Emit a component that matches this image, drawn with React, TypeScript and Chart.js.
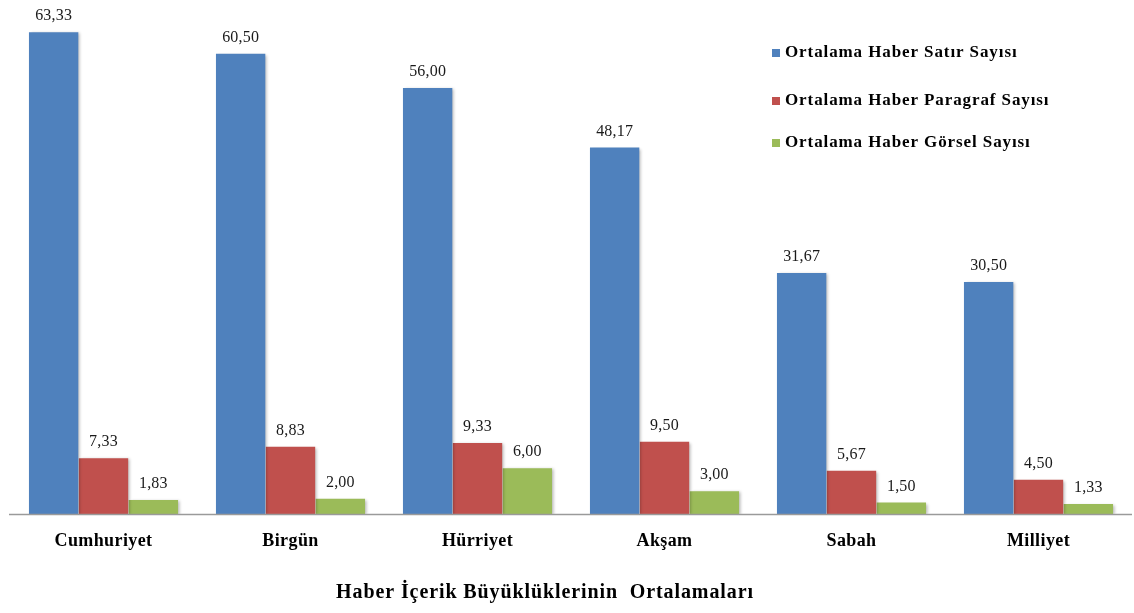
import React, { useEffect, useRef } from "react";
import { Chart, registerables } from "chart.js";

Chart.register(...registerables);

const categories = ["Cumhuriyet", "Birgün", "Hürriyet", "Akşam", "Sabah", "Milliyet"];
const satirValues = [63.33, 60.5, 56.0, 48.17, 31.67, 30.5];
const paragrafValues = [7.33, 8.83, 9.33, 9.5, 5.67, 4.5];
const gorselValues = [1.83, 2.0, 6.0, 3.0, 1.5, 1.33];
const seriesNames = [
  "Ortalama Haber Satır Sayısı",
  "Ortalama Haber Paragraf Sayısı",
  "Ortalama Haber Görsel Sayısı",
];
const seriesColors = ["#4F81BD", "#C0504D", "#9BBB59"];
const chartTitle = "Haber İçerik Büyüklüklerinin  Ortalamaları";

const SERIF = '"Liberation Serif", "Times New Roman", serif';

const fmt = (v: number) => v.toFixed(2).replace(".", ",");

const customPlugin = {
  id: "customDraw",
  beforeDatasetsDraw(chart: any) {
    const ctx = chart.ctx;
    ctx.save();
    ctx.shadowColor = "rgba(0,0,0,0.28)";
    ctx.shadowBlur = 3;
    ctx.shadowOffsetX = 2;
    ctx.shadowOffsetY = 1;
  },
  afterDatasetsDraw(chart: any) {
    const ctx = chart.ctx;
    ctx.restore();
    const area = chart.chartArea;
    // axis line
    ctx.save();
    ctx.strokeStyle = "#9a9a9a";
    ctx.lineWidth = 1.5;
    ctx.beginPath();
    ctx.moveTo(area.left - 1, area.bottom + 0.5);
    ctx.lineTo(area.right, area.bottom + 0.5);
    ctx.stroke();
    // data labels
    ctx.fillStyle = "#1a1a1a";
    ctx.font = `16px ${SERIF}`;
    ctx.letterSpacing = "0.2px";
    ctx.textAlign = "center";
    ctx.textBaseline = "alphabetic";
    chart.data.datasets.forEach((ds: any, i: number) => {
      const meta = chart.getDatasetMeta(i);
      meta.data.forEach((bar: any, j: number) => {
        ctx.fillText(fmt(ds.data[j]), bar.x, bar.y - 12);
      });
    });
    // category labels
    const xs = chart.scales.x;
    ctx.fillStyle = "#000";
    ctx.font = `bold 18px ${SERIF}`;
    ctx.letterSpacing = "0.4px";
    ctx.textBaseline = "middle";
    categories.forEach((c, i) => {
      ctx.fillText(c, xs.getPixelForValue(i), 541);
    });
    // legend
    ctx.textAlign = "left";
    ctx.font = `bold 17px ${SERIF}`;
    ctx.letterSpacing = "0.9px";
    const legendY = [53, 101, 143];
    seriesNames.forEach((n, i) => {
      ctx.fillStyle = seriesColors[i];
      ctx.fillRect(772, legendY[i] - 4, 8, 8);
      ctx.fillStyle = "#000";
      ctx.fillText(n, 785, legendY[i]);
    });
    // title
    ctx.textAlign = "center";
    ctx.font = `bold 20px ${SERIF}`;
    ctx.letterSpacing = "0.9px";
    ctx.fillText(chartTitle, 545, 593);
    ctx.restore();
  },
};

export default function App() {
  const ref = useRef<HTMLCanvasElement>(null);
  useEffect(() => {
    document.body.style.margin = "0";
    const chart = new Chart(ref.current!, {
      type: "bar",
      data: {
        labels: categories,
        datasets: [satirValues, paragrafValues, gorselValues].map((d, i) => ({
          label: seriesNames[i],
          data: d,
          backgroundColor: seriesColors[i],
          borderWidth: 0,
          categoryPercentage: 0.8,
          barPercentage: 0.99,
        })),
      },
      options: {
        responsive: false,
        animation: false,
        layout: { padding: { left: 10, right: 2, top: 12, bottom: 99 } },
        scales: {
          x: { display: false },
          y: { display: false, min: 0, max: 66 },
        },
        plugins: {
          legend: { display: false },
          tooltip: { enabled: false },
          title: { display: false },
        },
      },
      plugins: [customPlugin],
    });
    return () => chart.destroy();
  }, []);
  return (
    <div style={{ position: "absolute", left: 0, top: 0, width: 1134, height: 613, background: "#fff" }}>
      <canvas ref={ref} width={1134} height={613} />
    </div>
  );
}
